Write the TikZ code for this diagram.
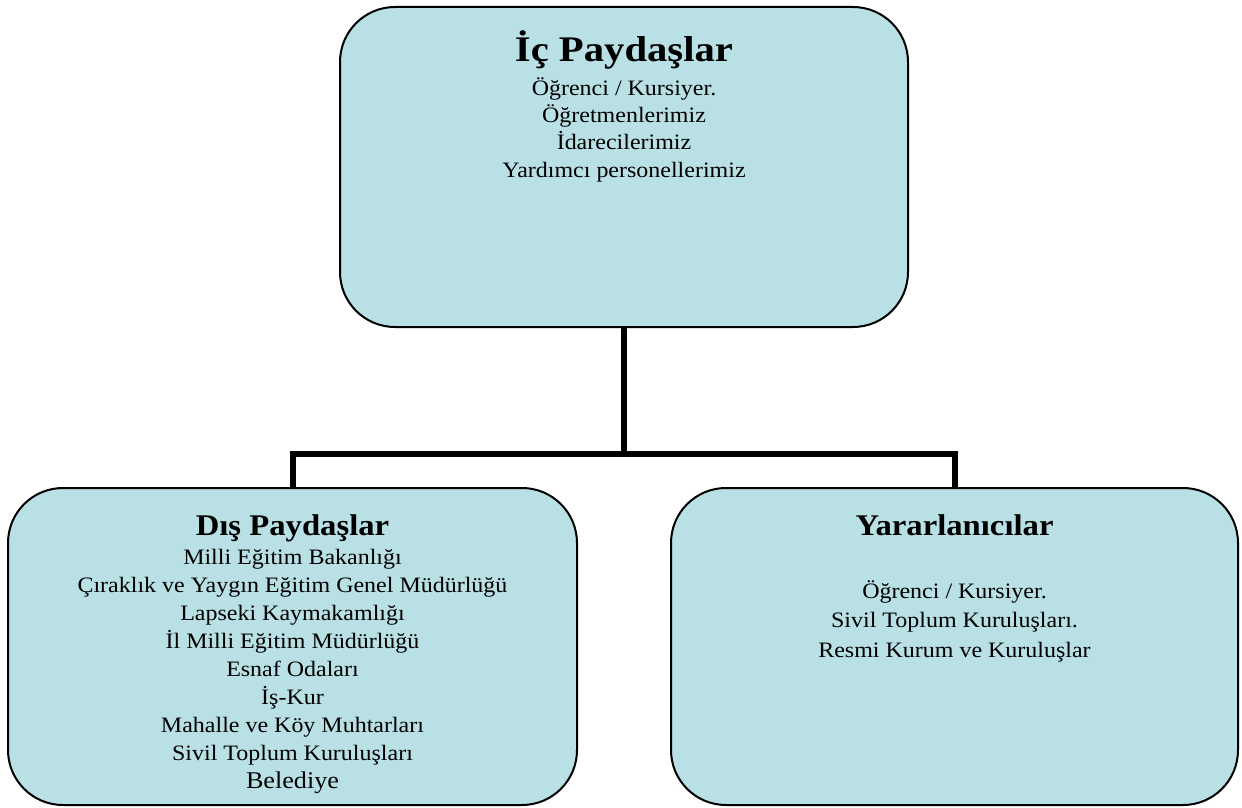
\documentclass[tikz,border=0pt]{standalone}
\usepackage{fontspec}
\setmainfont{Liberation Serif}[FakeStretch=1.09]
\definecolor{boxfill}{RGB}{185,224,228}
\begin{document}
\begin{tikzpicture}[x=1pt,y=-1pt,
  box/.style={draw=black, line width=2pt, fill=boxfill, rounded corners=55pt, inner sep=0pt},
  conn/.style={draw=black, line width=6pt},
  ttl/.style={font=\fontsize{#1}{#1}\selectfont\bfseries, inner sep=0pt, anchor=base},
  body/.style={font=\fontsize{22}{#1}\selectfont, align=center, inner sep=0pt, anchor=base}]
\useasboundingbox (0,0) rectangle (1242,808);
\node[box, minimum width=568pt, minimum height=320pt] (ic) at (624,167) {};
\node[box, minimum width=569pt, minimum height=317pt] (dis) at (292.5,646.5) {};
\node[box, minimum width=567pt, minimum height=317pt] (yar) at (954.5,646.5) {};
\coordinate (j) at (624,454);
\draw[conn] (ic.south) -- (j) -| (dis.north);
\draw[conn] (j) -| (yar.north);
\node[ttl=36, font=\fontsize{36}{36}\selectfont\bfseries\addfontfeature{FakeStretch=1.13}] (ict) at (624,62) {İç Paydaşlar};
\node[body=27.4] (icb) at (624,177.2) {Öğrenci / Kursiyer.\\Öğretmenlerimiz\\İdarecilerimiz\\Yardımcı personellerimiz};
\node[ttl=30] (dist) at (292.5,535) {Dış Paydaşlar};
\node[body=27.9] (disb) at (292.5,788) {Milli Eğitim Bakanlığı\\Çıraklık ve Yaygın Eğitim Genel Müdürlüğü\\Lapseki Kaymakamlığı\\İl Milli Eğitim Müdürlüğü\\Esnaf Odaları\\İş-Kur\\Mahalle ve Köy Muhtarları\\Sivil Toplum Kuruluşları\\{\fontsize{24}{27.9}\selectfont Belediye}};
\node[ttl=30] (yart) at (954.5,535) {Yararlanıcılar};
\node[body=29.5] (yarb) at (954.5,657) {Öğrenci / Kursiyer.\\Sivil Toplum Kuruluşları.\\Resmi Kurum ve Kuruluşlar};
\end{tikzpicture}
\end{document}
